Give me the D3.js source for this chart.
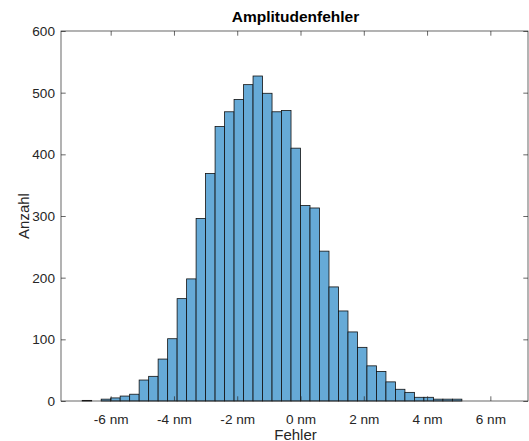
<!DOCTYPE html>
<html>
<head>
<meta charset="utf-8">
<script src="https://cdn.jsdelivr.net/npm/d3@7"></script>
<style>
  html, body { margin: 0; padding: 0; background: #fff; }
  svg { display: block; font-family: "Liberation Sans", Arial, Helvetica, sans-serif; }
</style>
</head>
<body>
<svg id="chart" width="529" height="441"></svg>
<script>
// ---- data ----
const binLeft = [-6.9, -6.6, -6.3, -6.0, -5.7, -5.4, -5.1, -4.8, -4.5, -4.2,
                 -3.9, -3.6, -3.3, -3.0, -2.7, -2.4, -2.1, -1.8, -1.5, -1.2,
                 -0.9, -0.6, -0.3, 0.0, 0.3, 0.6, 0.9, 1.2, 1.5, 1.8,
                 2.1, 2.4, 2.7, 3.0, 3.3, 3.6, 3.9, 4.2, 4.5, 4.8];
const binWidth = 0.3;
const counts = [1, 0, 3, 5, 8, 11, 34, 40, 68, 101,
                166, 198, 296, 369, 445, 469, 489, 513, 527, 499,
                469, 471, 410, 317, 313, 243, 185, 146, 112, 87,
                57, 48, 31, 19, 14, 6, 6, 3, 3, 3];
const xTicks = [-6, -4, -2, 0, 2, 4, 6];
const xTickLabels = ["-6 nm", "-4 nm", "-2 nm", "0 nm", "2 nm", "4 nm", "6 nm"];
const yTicks = [0, 100, 200, 300, 400, 500, 600];
const titleText = "Amplitudenfehler";
const xLabel = "Fehler";
const yLabel = "Anzahl";

// ---- layout ----
const L = 61, R = 528, T = 31, B = 401;
const svg = d3.select("#chart");
const x = d3.scaleLinear().domain([-7.57, 7.19]).range([L, R]);
const y = d3.scaleLinear().domain([0, 600]).range([B, T]);

const axisColor = "#262626";
const tickLen = 4.7;

// bars
svg.append("g").selectAll("rect")
  .data(binLeft.map((b, i) => ({ x0: b, x1: b + binWidth, v: counts[i] })))
  .join("rect")
  .attr("x", d => x(d.x0))
  .attr("width", d => x(d.x1) - x(d.x0))
  .attr("y", d => y(d.v))
  .attr("height", d => y(0) - y(d.v))
  .attr("fill", "#66aad7")
  .attr("stroke", "#111")
  .attr("stroke-width", 0.8);

// axes using d3 axis generators
const fontTick = "13.6px";
const xAxisB = svg.append("g").attr("transform", `translate(0,${B})`)
  .call(d3.axisBottom(x).tickValues(xTicks).tickFormat((d, i) => xTickLabels[i])
        .tickSizeInner(-tickLen).tickSizeOuter(0).tickPadding(13));
const xAxisT = svg.append("g").attr("transform", `translate(0,${T})`)
  .call(d3.axisTop(x).tickValues(xTicks).tickFormat("")
        .tickSizeInner(-tickLen).tickSizeOuter(0));
const yAxisL = svg.append("g").attr("transform", `translate(${L},0)`)
  .call(d3.axisLeft(y).tickValues(yTicks).tickFormat(d3.format("d"))
        .tickSizeInner(-tickLen).tickSizeOuter(0).tickPadding(6));
const yAxisR = svg.append("g").attr("transform", `translate(${R},0)`)
  .call(d3.axisRight(y).tickValues(yTicks).tickFormat("")
        .tickSizeInner(-tickLen).tickSizeOuter(0));

[xAxisB, xAxisT, yAxisL, yAxisR].forEach(g => {
  g.select(".domain").remove();
  g.selectAll(".tick line").attr("stroke", axisColor).attr("stroke-width", 0.7);
  g.selectAll(".tick text").attr("fill", axisColor)
    .style("font-size", fontTick)
    .style("font-family", '"Liberation Sans", Arial, Helvetica, sans-serif');
});

// box
svg.append("rect")
  .attr("x", L).attr("y", T)
  .attr("width", R - L).attr("height", B - T)
  .attr("fill", "none")
  .attr("stroke", axisColor)
  .attr("stroke-width", 0.7);

// title
svg.append("text")
  .attr("x", (L + R) / 2 + 1).attr("y", 22)
  .attr("text-anchor", "middle")
  .attr("fill", "#000")
  .style("font-size", "15.5px")
  .style("font-weight", "bold")
  .text(titleText);

// x label
svg.append("text")
  .attr("x", (L + R) / 2 + 1).attr("y", 439.5)
  .attr("text-anchor", "middle")
  .attr("fill", axisColor)
  .style("font-size", "15px")
  .text(xLabel);

// y label
svg.append("text")
  .attr("transform", `translate(29,${(T + B) / 2}) rotate(-90)`)
  .attr("text-anchor", "middle")
  .attr("fill", axisColor)
  .style("font-size", "15px")
  .text(yLabel);
</script>
</body>
</html>
